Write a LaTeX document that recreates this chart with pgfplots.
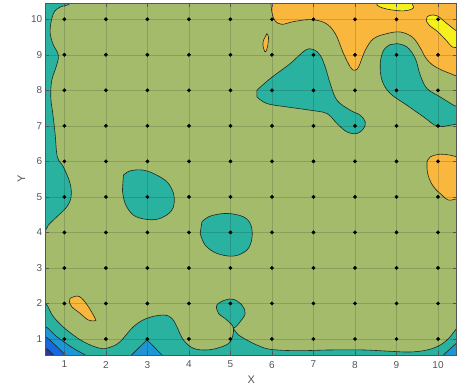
\documentclass[border=0pt]{standalone}
\usepackage{pgfplots}
\pgfplotsset{compat=1.18}
\usepackage{fontspec}
\setmainfont{Liberation Sans}
\definecolor{cgreen}{RGB}{163,187,106}
\definecolor{cteal}{RGB}{42,178,160}
\definecolor{clblue}{RGB}{28,150,212}
\definecolor{cblue}{RGB}{22,105,222}
\definecolor{cdark}{RGB}{45,55,160}
\definecolor{corange}{RGB}{250,183,62}
\definecolor{cyellow}{RGB}{246,240,28}
\definecolor{cline}{RGB}{30,40,30}
\definecolor{ctext}{RGB}{85,85,85}
\begin{document}
\begin{tikzpicture}
\begin{axis}[
  scale only axis, width=411pt, height=351.7pt,
  xmin=0.55, xmax=10.45, ymin=0.55, ymax=10.45,
  xtick={1,...,10}, ytick={1,...,10},
  grid=major, grid style={black, opacity=0.15, line width=0.5pt},
  axis on top,
  axis background/.style={fill=cgreen},
  axis line style={ctext, line width=0.5pt},
  tick style={ctext, line width=0.5pt}, tick align=inside, major tick length=3.5pt,
  ticklabel style={font=\fontsize{10}{12}\selectfont, text=ctext},
  xticklabel style={yshift=-2.5pt},
  /pgf/number format/assume math mode=true,
  xlabel={X}, ylabel={Y},
  label style={font=\fontsize{11}{13}\selectfont, text=ctext},
  xlabel style={yshift=-1pt},
  ylabel style={yshift=-1pt},
  contour/.style={draw=cline, line width=0.6pt, smooth, tension=0.6},
]
% left teal strip
\addplot[contour, fill=cteal] coordinates {
(1.18,10.8)(1.14,10.45)(0.896,10.345)(0.735,10.159)(0.655,9.69)(0.72,9.316)(0.855,8.987)(0.80,8.657)(0.696,8.283)(0.672,7.814)(0.72,7.347)(0.776,6.785)(0.831,6.127)(0.976,5.845)(1.137,5.379)(1.161,5.002)(1.058,4.72)(0.817,4.439)(0.614,4.206)(0.5,4.0)(0.2,3.9)(0.2,10.8)
} -- cycle;
% bottom teal band with blob at (5,2)
\addplot[contour, fill=cteal] coordinates {
(0.3,2.1)(0.55,2.0)(0.735,1.627)(1.058,1.253)(1.458,0.924)(1.86,0.738)(2.101,0.767)(2.342,0.924)(2.663,1.346)(2.986,1.582)(3.386,1.675)(3.589,1.582)(3.709,1.346)(3.868,0.972)(4.109,0.738)(4.432,0.691)(4.753,0.767)(4.994,0.924)(5.073,1.301)(4.914,1.534)(4.712,1.723)(4.673,1.956)(4.873,2.097)(5.073,2.116)(5.276,1.956)(5.355,1.723)(5.235,1.487)(5.114,1.329)(5.073,1.301)(5.194,1.112)(5.396,0.972)(5.637,0.831)(5.958,0.71)(6.601,0.671)(7.404,0.691)(8.207,0.691)(8.85,0.654)(9.332,0.634)(9.735,0.691)(10.055,0.831)(10.296,1.065)(10.45,1.30)(10.7,1.5)(10.7,0.2)(0.3,0.2)
} -- cycle;
% lower-left light blue, blue, dark
\addplot[contour, fill=clblue] coordinates {
(0.3,1.45)(0.55,1.35)(0.817,1.065)(1.217,0.738)(1.499,0.55)(1.65,0.4)(0.3,0.3)
} -- cycle;
\addplot[contour, fill=cblue] coordinates {
(0.3,1.15)(0.55,1.06)(0.776,0.831)(1.017,0.55)(1.1,0.4)(0.3,0.3)
} -- cycle;
\addplot[contour, fill=cdark] coordinates {
(0.3,0.8)(0.55,0.74)(0.655,0.643)(0.735,0.55)(0.8,0.4)(0.3,0.3)
} -- cycle;
% light blue triangle near (3,1)
\addplot[draw=cline, line width=0.6pt, fill=clblue] coordinates {
(2.55,0.45)(2.62,0.55)(2.99,0.98)(3.35,0.55)(3.42,0.45)
} -- cycle;
% bottom-right light blue corner
\addplot[draw=cline, line width=0.6pt, fill=clblue] coordinates {
(10.0,0.45)(10.13,0.55)(10.45,0.89)(10.6,1.0)(10.6,0.45)
} -- cycle;
% teal blob (3,5)
\addplot[contour, fill=cteal] coordinates {
(2.422,5.612)(2.584,5.733)(2.904,5.753)(3.227,5.612)(3.507,5.379)(3.644,5.002)(3.589,4.628)(3.307,4.394)(2.986,4.366)(2.663,4.487)(2.463,4.816)(2.398,5.19)
} -- cycle;
% teal blob (5,4)
\addplot[contour, fill=cteal] coordinates {
(4.312,4.299)(4.512,4.459)(4.914,4.535)(5.314,4.439)(5.493,4.206)(5.517,3.832)(5.396,3.503)(5.073,3.334)(4.673,3.41)(4.391,3.643)(4.271,3.972)
} -- cycle;
% teal blob (7,8)
\addplot[contour, fill=cteal] coordinates {
(5.637,8.002)(5.958,8.331)(6.44,8.753)(6.802,9.127)(7.001,9.147)(7.163,8.987)(7.283,8.657)(7.404,8.19)(7.565,7.721)(7.886,7.44)(8.127,7.3)(8.247,7.111)(8.207,6.925)(8.048,6.785)(7.806,6.83)(7.565,7.066)(7.324,7.347)(6.922,7.44)(6.36,7.533)(5.878,7.628)(5.637,7.814)
} -- cycle;
% teal blob (9,8) to right edge
\addplot[contour, fill=cteal] coordinates {
(9.011,9.315)(9.253,9.22)(9.453,8.894)(9.573,8.424)(9.735,8.05)(10.055,7.814)(10.376,7.58)(10.5,7.52)(10.8,7.5)(10.8,7.05)(10.5,7.06)(10.296,7.018)(9.976,6.99)(9.653,7.252)(9.253,7.58)(8.85,7.91)(8.65,8.283)(8.609,8.753)(8.689,9.127)(8.85,9.287)
} -- cycle;
% top orange region
\addplot[contour, fill=corange] coordinates {
(5.97,10.7)(5.975,10.45)(6.006,10.159)(6.078,9.951)(6.24,9.858)(6.519,9.934)(6.922,9.99)(7.283,9.895)(7.524,9.597)(7.724,9.034)(7.886,8.658)(7.982,8.565)(8.086,8.658)(8.247,9.127)(8.448,9.456)(8.77,9.597)(9.091,9.642)(9.38,9.50)(9.56,9.22)(9.70,8.92)(9.86,8.72)(10.07,8.58)(10.28,8.48)(10.5,8.38)(10.8,8.3)(10.8,10.8)
} -- cycle;
% small orange sliver near (6,9.4)
\addplot[contour, fill=corange] coordinates {
(5.878,9.597)(5.917,9.501)(5.892,9.22)(5.837,9.079)(5.782,9.268)(5.796,9.409)
} -- cycle;
% orange near (1.4,1.9)
\addplot[contour, fill=corange] coordinates {
(1.137,2.145)(1.299,2.209)(1.419,2.145)(1.578,1.908)(1.74,1.582)(1.74,1.515)(1.578,1.534)(1.378,1.723)(1.178,1.908)(1.121,2.049)
} -- cycle;
% orange near (10,5.5)
\addplot[contour, fill=corange] coordinates {
(9.735,5.986)(9.814,6.127)(10.055,6.203)(10.296,6.174)(10.5,6.12)(10.8,6.1)(10.8,4.9)(10.5,4.95)(10.255,4.909)(10.096,5.049)(9.894,5.283)(9.773,5.564)(9.735,5.8)
} -- cycle;
% yellow top
\addplot[contour, fill=cyellow] coordinates {
(8.49,10.7)(8.51,10.45)(8.607,10.345)(8.848,10.27)(9.163,10.236)(9.356,10.28)(9.412,10.345)(9.373,10.45)(9.36,10.7)
} -- cycle;
% yellow right
\addplot[contour, fill=cyellow] coordinates {
(9.735,10.064)(9.814,10.112)(9.983,10.097)(10.217,9.878)(10.5,9.64)(10.8,9.6)(10.8,9.2)(10.5,9.21)(10.345,9.22)(10.217,9.38)(9.995,9.647)(9.79,9.83)(9.718,9.957)
} -- cycle;
% data points
\addplot[only marks, mark=*, mark size=1.7pt, black] table {
x y
1 1
2 1
3 1
4 1
5 1
6 1
7 1
8 1
9 1
10 1
1 2
2 2
3 2
4 2
5 2
6 2
7 2
8 2
9 2
10 2
1 3
2 3
3 3
4 3
5 3
6 3
7 3
8 3
9 3
10 3
1 4
2 4
3 4
4 4
5 4
6 4
7 4
8 4
9 4
10 4
1 5
2 5
3 5
4 5
5 5
6 5
7 5
8 5
9 5
10 5
1 6
2 6
3 6
4 6
5 6
6 6
7 6
8 6
9 6
10 6
1 7
2 7
3 7
4 7
5 7
6 7
7 7
8 7
9 7
10 7
1 8
2 8
3 8
4 8
5 8
6 8
7 8
8 8
9 8
10 8
1 9
2 9
3 9
4 9
5 9
6 9
7 9
8 9
9 9
10 9
1 10
2 10
3 10
4 10
5 10
6 10
7 10
8 10
9 10
10 10
};
\end{axis}
\path (current axis.south west) ++(-45.7pt,-37pt) coordinate (bbA);
\path (current axis.north east) ++(5.3pt,3.3pt) coordinate (bbB);
\useasboundingbox (bbA) rectangle (bbB);
\end{tikzpicture}
\end{document}
